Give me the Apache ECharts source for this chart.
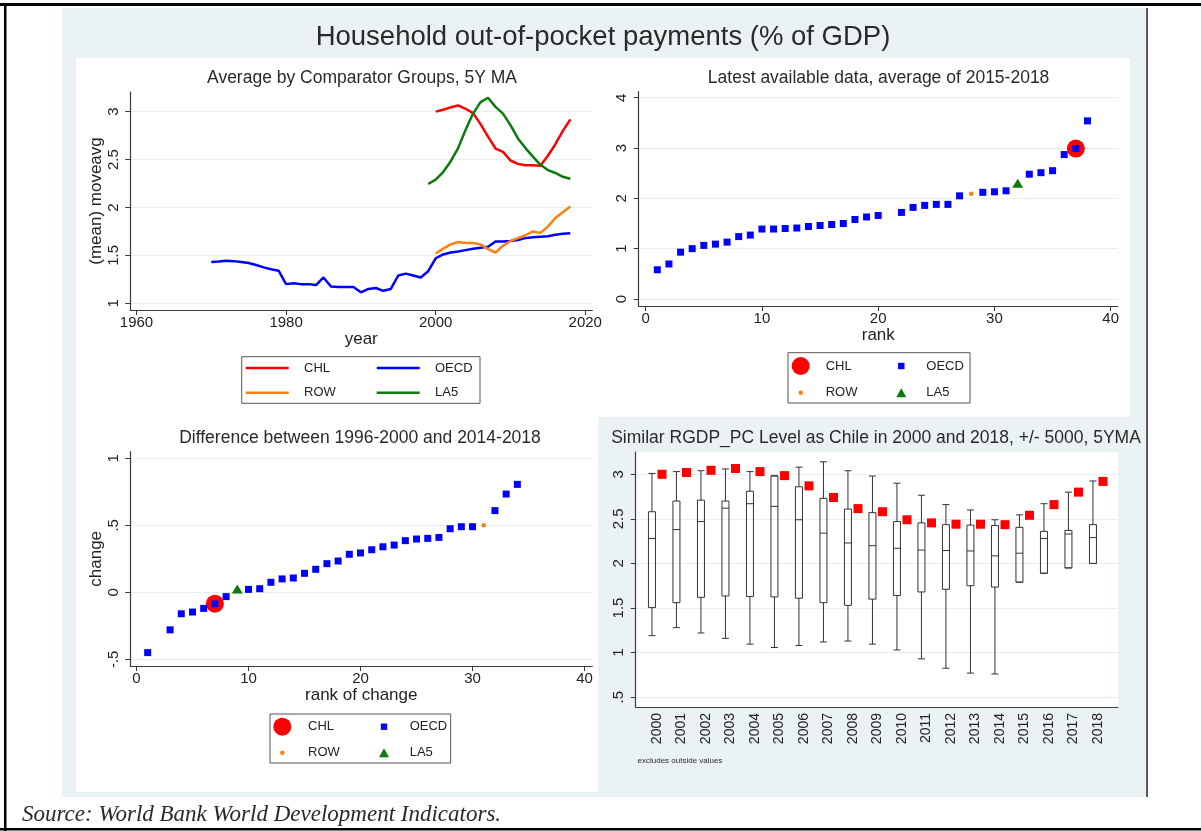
<!DOCTYPE html>
<html>
<head>
<meta charset="utf-8">
<title>Household out-of-pocket payments (% of GDP)</title>
<script src="https://cdn.jsdelivr.net/npm/echarts@6/dist/echarts.min.js"></script>
<style>
  html, body { margin: 0; padding: 0; background: #fff; }
  #chart { width: 1201px; height: 831px; }
</style>
</head>
<body>
<div id="chart"></div>
<script>
// ---- data ----
const boxYears = ['2000', '2001', '2002', '2003', '2004', '2005', '2006', '2007', '2008', '2009',
  '2010', '2011', '2012', '2013', '2014', '2015', '2016', '2017', '2018'];

// panel 1: 5 year moving averages
const oecdStart = 1970;
const oecdMA = [1.43, 1.435, 1.445, 1.44, 1.43, 1.42, 1.40, 1.375, 1.355, 1.34,
  1.20, 1.21, 1.20, 1.20, 1.19, 1.27, 1.175, 1.17, 1.17, 1.17,
  1.115, 1.15, 1.16, 1.13, 1.15, 1.29, 1.31, 1.29, 1.27, 1.335,
  1.47, 1.51, 1.53, 1.54, 1.555, 1.57, 1.58, 1.59, 1.645, 1.645,
  1.65, 1.66, 1.68, 1.69, 1.695, 1.70, 1.715, 1.725, 1.73];
const chlStart = 2000;
const chlMA = [3.00, 3.02, 3.045, 3.065, 3.03, 2.985, 2.87, 2.74, 2.615, 2.58,
  2.49, 2.455, 2.44, 2.44, 2.435, 2.54, 2.66, 2.80, 2.92];
const rowStart = 2000;
const rowMA = [1.52, 1.57, 1.615, 1.64, 1.63, 1.63, 1.615, 1.565, 1.53, 1.60,
  1.65, 1.68, 1.71, 1.75, 1.735, 1.80, 1.89, 1.95, 2.01];
const la5Start = 1999;
const la5MA = [2.245, 2.29, 2.37, 2.48, 2.62, 2.81, 2.98, 3.10, 3.145, 3.05,
  2.98, 2.86, 2.72, 2.62, 2.53, 2.445, 2.39, 2.36, 2.32, 2.30];

// panel 2: latest data, [rank, value]
const latestOECD = [[1, 0.58], [2, 0.695], [3, 0.93], [4, 1.0], [5, 1.065], [6, 1.09], [7, 1.13],
  [8, 1.24], [9, 1.27], [10, 1.39], [11, 1.39], [12, 1.40], [13, 1.41], [14, 1.44], [15, 1.46],
  [16, 1.48], [17, 1.50], [18, 1.58], [19, 1.63], [20, 1.66], [22, 1.72], [23, 1.82], [24, 1.86],
  [25, 1.88], [26, 1.88], [27, 2.05], [29, 2.12], [30, 2.13], [31, 2.15], [33, 2.48], [34, 2.51],
  [35, 2.55], [36, 2.87], [37, 2.99], [38, 3.54]];
const latestCHL = [[37, 2.99]];
const latestROW = [[28, 2.09]];
const latestLA5 = [[32, 2.30]];

// panel 3: change, [rank, change]
const changeOECD = [[1, -0.45], [3, -0.28], [4, -0.16], [5, -0.147], [6, -0.12], [7, -0.085],
  [8, -0.032], [10, 0.022], [11, 0.027], [12, 0.075], [13, 0.10], [14, 0.107], [15, 0.142],
  [16, 0.172], [17, 0.214], [18, 0.234], [19, 0.284], [20, 0.294], [21, 0.318], [22, 0.34],
  [23, 0.353], [24, 0.386], [25, 0.398], [26, 0.403], [27, 0.41], [28, 0.475], [29, 0.49],
  [30, 0.49], [32, 0.61], [33, 0.734], [34, 0.806]];
const changeCHL = [[7, -0.085]];
const changeLA5 = [[9, 0.025]];
const changeROW = [[31, 0.50]];

// panel 4: box plots of comparator countries
const boxHigh = [3.01, 3.03, 3.04, 3.06, 3.03, 2.985, 3.08, 3.14, 3.04, 2.98, 2.90, 2.765, 2.66, 2.60, 2.49, 2.545, 2.67, 2.80, 2.925];
const boxQ3 = [2.58, 2.70, 2.71, 2.70, 2.81, 2.98, 2.86, 2.73, 2.61, 2.57, 2.47, 2.455, 2.435, 2.43, 2.425, 2.405, 2.36, 2.37, 2.435];
const boxMed = [2.28, 2.38, 2.47, 2.62, 2.67, 2.64, 2.49, 2.34, 2.23, 2.20, 2.17, 2.15, 2.145, 2.14, 2.085, 2.115, 2.28, 2.33, 2.29];
const boxQ1 = [1.505, 1.56, 1.62, 1.635, 1.63, 1.625, 1.61, 1.56, 1.53, 1.60, 1.64, 1.68, 1.71, 1.75, 1.735, 1.79, 1.89, 1.95, 2.0];
const boxLow = [1.19, 1.28, 1.22, 1.16, 1.095, 1.057, 1.08, 1.12, 1.13, 1.095, 1.03, 0.93, 0.825, 0.77, 0.76, 1.79, 1.89, 1.95, 2.0];

// ---- styling ----
const FONT = '"Liberation Sans", Arial, sans-serif';
const INK = '#222';
const AXIS = '#3a3a3a';
const GRIDC = '#e6eef0';
const BG = '#eaf2f3';
const RED = '#ff0000', BLUE = '#0000ff', ORANGE = '#ff7f0e', GREEN = '#0c7a0c';

const fmt = v => String(+v.toFixed(2)).replace(/^(-?)0\./, '$1.');
const withYears = (start, arr) => arr.map((v, i) => [start + i, v]);

function xValueAxis(gridIndex, min, max, ticks, name) {
  return {
    type: 'value', gridIndex, min, max,
    name, nameLocation: 'middle', nameGap: 20,
    nameTextStyle: { color: INK, fontSize: 17, fontFamily: FONT },
    axisLine: { show: true, onZero: false, lineStyle: { color: AXIS, width: 1.2 } },
    axisTick: { show: true, length: 5, customValues: ticks, lineStyle: { color: AXIS } },
    axisLabel: { color: INK, fontSize: 15, fontFamily: FONT, margin: 5, customValues: ticks, formatter: v => String(v) },
    splitLine: { show: false }
  };
}
function yValueAxis(gridIndex, min, max, ticks, name) {
  return {
    type: 'value', gridIndex, min, max,
    name, nameLocation: 'middle', nameGap: 24,
    nameTextStyle: { color: INK, fontSize: 17, fontFamily: FONT },
    axisLine: { show: true, onZero: false, lineStyle: { color: AXIS, width: 1.2 } },
    axisTick: { show: true, length: 5, customValues: ticks, lineStyle: { color: AXIS } },
    axisLabel: { color: INK, fontSize: 15, fontFamily: FONT, rotate: 90, margin: 9, customValues: ticks, formatter: fmt },
    splitLine: { show: true, lineStyle: { color: GRIDC, width: 1 } }
  };
}

const textLegend = { color: INK, fontSize: 13, fontFamily: FONT };
const lineIcon = 'path://M0,0h43v2.6h-43z';
const dotIcons = {
  CHL: 'circle',
  OECD: 'path://M0,0M18,18M5.8,5.8h6.4v6.4h-6.4z',
  ROW: 'path://M0,0M18,18M6.8,9A2.2,2.2,0,1,0,11.2,9A2.2,2.2,0,1,0,6.8,9z',
  LA5: 'path://M0,0M18,18M4,13.5L9,4.5L14,13.5z'
};
const groups = ['CHL', 'OECD', 'ROW', 'LA5'];
const dotLegendData = groups.map(n => ({ name: n, icon: dotIcons[n] }));
const lineLegendData = groups.map(n => ({ name: n, icon: lineIcon }));

const scatter = (name, x, y, data, symbol, size, color, z) => ({
  name, type: 'scatter', xAxisIndex: x, yAxisIndex: y, data, symbol, symbolSize: size,
  itemStyle: { color, opacity: 1 }, z, silent: true
});
const line = (name, data, color) => ({
  name, type: 'line', xAxisIndex: 0, yAxisIndex: 0, data, symbol: 'none',
  lineStyle: { color, width: 2.5 }, itemStyle: { color }, silent: true
});
const text = (x, y, str, font, align) => ({
  type: 'text', x, y, style: { text: str, font, fill: '#2a2a2a', align: align || 'center', verticalAlign: 'middle' }
});
const frame = (x, y, w, h) => ({
  type: 'rect', z: 1, shape: { x, y, width: w, height: h }, style: { fill: 'none', stroke: '#555', lineWidth: 1 }
});

const chart = echarts.init(document.getElementById('chart'));

const option = {
  backgroundColor: '#fff',
  animation: false,
  graphic: [
    { type: 'rect', z: -20, shape: { x: 62, y: 8, width: 1085, height: 789 }, style: { fill: BG } },
    { type: 'rect', z: -19, shape: { x: 76, y: 58, width: 1054, height: 359 }, style: { fill: '#fff' } },
    { type: 'rect', z: -19, shape: { x: 76, y: 417, width: 522, height: 375 }, style: { fill: '#fff' } },
    { type: 'rect', z: -18, shape: { x: 1146.3, y: 8, width: 1.5, height: 789 }, style: { fill: '#222' } },
    { type: 'rect', z: 30, shape: { x: 0, y: 3, width: 1201, height: 3 }, style: { fill: '#000' } },
    { type: 'rect', z: 30, shape: { x: 4, y: 3, width: 2.5, height: 828 }, style: { fill: '#000' } },
    { type: 'rect', z: 30, shape: { x: 0, y: 828, width: 1201, height: 2.5 }, style: { fill: '#000' } },
    frame(241.7, 356.7, 238.3, 46.6),
    frame(788, 352.7, 182, 50.3),
    frame(270, 714, 180.7, 49),
    text(603, 37, 'Household out-of-pocket payments (% of GDP)', '27.5px ' + FONT),
    text(362, 78, 'Average by Comparator Groups, 5Y MA', '17.5px ' + FONT),
    text(878.6, 78, 'Latest available data, average of 2015-2018', '17.5px ' + FONT),
    text(360, 438, 'Difference between 1996-2000 and 2014-2018', '17.5px ' + FONT),
    text(876, 438, 'Similar RGDP_PC Level as Chile in 2000 and 2018, +/- 5000, 5YMA', '17.5px ' + FONT),
    text(637.5, 761, 'excludes outside values', '8px ' + FONT, 'left'),
    text(22, 815, 'Source: World Bank World Development Indicators.', 'italic 23px "Liberation Serif", "Times New Roman", serif', 'left')
  ],
  grid: [
    { left: 130.2, top: 92, width: 462.1, height: 218 },
    { left: 638.6, top: 91.7, width: 479.3, height: 214.3 },
    { left: 130.2, top: 451.7, width: 462.1, height: 214.3 },
    { left: 635.7, top: 452, width: 482.3, height: 255, show: true, backgroundColor: '#fff', borderWidth: 0 },
    { left: 644.75, top: 452, width: 465.5, height: 255 }
  ],
  xAxis: [
    xValueAxis(0, 1959.16, 2020.94, [1960, 1980, 2000, 2020], 'year'),
    xValueAxis(1, -0.61, 40.62, [0, 10, 20, 30, 40], 'rank'),
    xValueAxis(2, -0.56, 40.69, [0, 10, 20, 30, 40], 'rank of change'),
    { type: 'value', gridIndex: 3, min: 0, max: 1,
      axisLine: { show: true, onZero: false, lineStyle: { color: AXIS, width: 1.2 } },
      axisTick: { show: false }, axisLabel: { show: false }, splitLine: { show: false } },
    { type: 'category', gridIndex: 4, data: boxYears,
      axisLine: { show: false }, axisTick: { show: false }, splitLine: { show: false },
      axisLabel: { color: INK, fontSize: 14, fontFamily: FONT, rotate: 90, interval: 0, margin: 6 } }
  ],
  yAxis: [
    yValueAxis(0, 0.93, 3.205, [1, 1.5, 2, 2.5, 3], '(mean) moveavg'),
    yValueAxis(1, -0.14, 4.12, [0, 1, 2, 3, 4], ''),
    yValueAxis(2, -0.55, 1.05, [-0.5, 0, 0.5, 1], 'change'),
    yValueAxis(3, 0.39, 3.25, [0.5, 1, 1.5, 2, 2.5, 3], ''),
    { type: 'value', gridIndex: 4, min: 0.39, max: 3.25, show: false }
  ],
  legend: [
    { left: 245.7, top: 355.7, orient: 'horizontal', width: 300, padding: 0, itemGap: 0,
      itemWidth: 43, itemHeight: 14, selectedMode: false,
      textStyle: Object.assign({ width: 72.7, padding: [0, 0, 0, 10.3], lineHeight: 24.7 }, textLegend),
      data: lineLegendData },
    { left: 791.7, top: 352.65, orient: 'horizontal', width: 250, padding: 0, itemGap: 0,
      itemWidth: 20, itemHeight: 18, selectedMode: false,
      textStyle: Object.assign({ width: 66.6, padding: [0, 0, 0, 10], lineHeight: 26.7 }, textLegend),
      data: dotLegendData },
    { left: 273.3, top: 713.7, orient: 'horizontal', width: 250, padding: 0, itemGap: 0,
      itemWidth: 20, itemHeight: 18, selectedMode: false,
      textStyle: Object.assign({ width: 67, padding: [0, 0, 0, 10.7], lineHeight: 26 }, textLegend),
      data: dotLegendData }
  ],
  series: [
    line('CHL', withYears(chlStart, chlMA), RED),
    line('OECD', withYears(oecdStart, oecdMA), BLUE),
    line('ROW', withYears(rowStart, rowMA), ORANGE),
    line('LA5', withYears(la5Start, la5MA), GREEN),

    scatter('CHL', 1, 1, latestCHL, 'circle', 18, RED, 3),
    scatter('OECD', 1, 1, latestOECD, 'rect', 7, BLUE, 4),
    scatter('ROW', 1, 1, latestROW, 'circle', 4.5, ORANGE, 4),
    scatter('LA5', 1, 1, latestLA5, 'triangle', [11, 9], GREEN, 4),

    scatter('CHL', 2, 2, changeCHL, 'circle', 18, RED, 3),
    scatter('OECD', 2, 2, changeOECD, 'rect', 7, BLUE, 4),
    scatter('ROW', 2, 2, changeROW, 'circle', 4.5, ORANGE, 4),
    scatter('LA5', 2, 2, changeLA5, 'triangle', [11, 9], GREEN, 4),

    { name: 'comparators', type: 'boxplot', xAxisIndex: 4, yAxisIndex: 4, boxWidth: [7, 7], silent: true,
      itemStyle: { color: 'rgba(0,0,0,0)', borderColor: '#333', borderWidth: 1 },
      data: boxYears.map((_, i) => [boxLow[i], boxQ1[i], boxMed[i], boxQ3[i], boxHigh[i]]) },
    // second (empty) box slot so the Chile markers sit beside the boxes
    { name: 'chile slot', type: 'boxplot', xAxisIndex: 4, yAxisIndex: 4, boxWidth: [7, 7], data: [] },
    { name: 'Chile', type: 'scatter', xAxisIndex: 4, yAxisIndex: 4, data: chlMA, symbol: 'rect',
      symbolSize: 9, symbolOffset: [5, 0], itemStyle: { color: RED, opacity: 1 }, z: 4, silent: true }
  ]
};

chart.setOption(option);
</script>
</body>
</html>
